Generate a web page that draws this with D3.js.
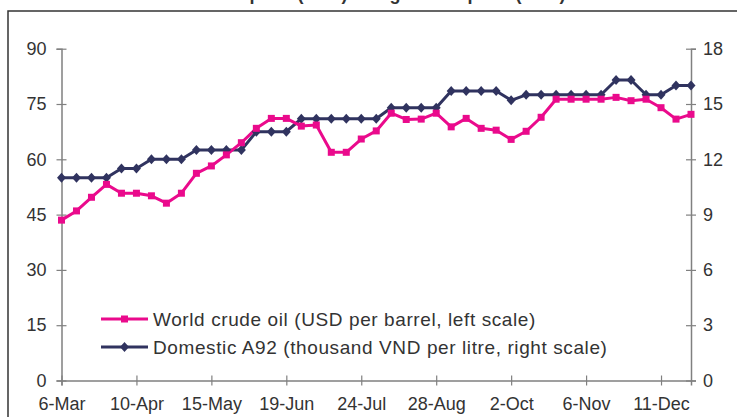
<!DOCTYPE html>
<html>
<head>
<meta charset="utf-8">
<script src="https://cdn.jsdelivr.net/npm/d3@7/dist/d3.min.js"></script>
<style>
  html, body { margin: 0; padding: 0; background: #fff; }
  svg { display: block; }
  text { font-family: "Liberation Sans", Arial, sans-serif; fill: #333; }
</style>
</head>
<body>
<svg id="chart" width="737" height="417"></svg>
<script>
// Weekly observation dates (2006)
const dates = [
  "2006-03-06","2006-03-13","2006-03-20","2006-03-27",
  "2006-04-03","2006-04-10","2006-04-17","2006-04-24",
  "2006-05-01","2006-05-08","2006-05-15","2006-05-22","2006-05-29",
  "2006-06-05","2006-06-12","2006-06-19","2006-06-26",
  "2006-07-03","2006-07-10","2006-07-17","2006-07-24","2006-07-31",
  "2006-08-07","2006-08-14","2006-08-21","2006-08-28",
  "2006-09-04","2006-09-11","2006-09-18","2006-09-25",
  "2006-10-02","2006-10-09","2006-10-16","2006-10-23","2006-10-30",
  "2006-11-06","2006-11-13","2006-11-20","2006-11-27",
  "2006-12-04","2006-12-11","2006-12-18","2006-12-25"
];

// World crude oil, USD per barrel (left scale)
const crudeOil = [
  43.5, 46.0, 49.7, 53.2, 50.8, 50.8, 50.1, 48.1, 50.8, 56.2,
  58.2, 61.2, 64.5, 68.4, 71.1, 71.1, 69.0, 69.3, 61.9, 61.9,
  65.5, 67.7, 72.5, 70.8, 70.9, 72.5, 68.8, 71.1, 68.4, 67.9,
  65.4, 67.6, 71.4, 76.3, 76.3, 76.3, 76.3, 76.8, 75.9, 76.3,
  74.0, 70.9, 72.2
];

// Domestic A92 gasoline, thousand VND per litre (right scale)
const a92 = [
  11.0, 11.0, 11.0, 11.0, 11.5, 11.5, 12.0, 12.0, 12.0, 12.5,
  12.5, 12.5, 12.5, 13.5, 13.5, 13.5, 14.2, 14.2, 14.2, 14.2,
  14.2, 14.2, 14.8, 14.8, 14.8, 14.8, 15.7, 15.7, 15.7, 15.7,
  15.2, 15.5, 15.5, 15.5, 15.5, 15.5, 15.5, 16.3, 16.3, 15.5,
  15.5, 16.0, 16.0
];

const xTickDates = ["2006-03-06","2006-04-10","2006-05-15","2006-06-19","2006-07-24",
                    "2006-08-28","2006-10-02","2006-11-06","2006-12-11"];
const xTickLabels = ["6-Mar","10-Apr","15-May","19-Jun","24-Jul","28-Aug","2-Oct","6-Nov","11-Dec"];
const leftTicks = [0, 15, 30, 45, 60, 75, 90];
const rightTicks = [0, 3, 6, 9, 12, 15, 18];

const seriesNames = [
  "World crude oil (USD per barrel, left scale)",
  "Domestic A92 (thousand VND per litre, right scale)"
];
const titleText = "Crude oil price (USD) and gasoline price (VND)";

const parse = d3.utcParse("%Y-%m-%d");
const dateVals = dates.map(parse);

const svg = d3.select("#chart");

// outer frame of the figure
svg.append("rect")
  .attr("x", 8).attr("y", 11)
  .attr("width", 760).attr("height", 440)
  .attr("fill", "none").attr("stroke", "#333").attr("stroke-width", 1.5);

// title sits above the frame, at the very top edge
svg.append("text")
  .attr("x", 366).attr("y", 0)
  .attr("text-anchor", "middle")
  .style("font-size", "18px").style("font-weight", "bold")
  .text(titleText);

const x = d3.scaleUtc()
  .domain([dateVals[0], dateVals[dateVals.length - 1]])
  .range([61.5, 691]);
const yL = d3.scaleLinear().domain([0, 90]).range([380.5, 48.7]);
const yR = d3.scaleLinear().domain([0, 18]).range([380.5, 48.7]);

const axisColor = "#808080";

function styleAxis(g) {
  g.select(".domain").attr("stroke", axisColor).attr("stroke-width", 1.5);
  g.selectAll(".tick line").attr("stroke", axisColor).attr("stroke-width", 1.2);
  g.selectAll(".tick text").style("font-size", "18px").attr("fill", "#333");
}

// left axis
const gL = svg.append("g").attr("transform", `translate(${x.range()[0]},0)`)
  .call(d3.axisLeft(yL).tickValues(leftTicks).tickSizeOuter(0).tickSize(5).tickPadding(10));
styleAxis(gL);
gL.selectAll(".tick line").attr("x1", 5).attr("x2", -5);

// right axis
const gR = svg.append("g").attr("transform", `translate(${x.range()[1]},0)`)
  .call(d3.axisRight(yR).tickValues(rightTicks).tickSizeOuter(0).tickSize(5).tickPadding(7));
styleAxis(gR);
gR.selectAll(".tick line").attr("x1", -5).attr("x2", 5);

// bottom axis
const gB = svg.append("g").attr("transform", `translate(0,${yL(0)})`)
  .call(d3.axisBottom(x).tickValues(xTickDates.map(parse))
    .tickFormat((d, i) => xTickLabels[i]).tickSizeOuter(0).tickSize(5).tickPadding(12));
styleAxis(gB);
gB.selectAll(".tick line").attr("y1", -5).attr("y2", 5);

const pink = "#EA0A8C";
const navy = "#30335F";

const oilData = dateVals.map((d, i) => ({ d, v: crudeOil[i] }));
const a92Data = dateVals.map((d, i) => ({ d, v: a92[i] }));

// domestic A92 line with diamond markers
svg.append("path").datum(a92Data)
  .attr("fill", "none").attr("stroke", navy).attr("stroke-width", 3)
  .attr("stroke-linejoin", "round")
  .attr("d", d3.line().x(p => x(p.d)).y(p => yR(p.v)));

// world crude line with square markers
svg.append("path").datum(oilData)
  .attr("fill", "none").attr("stroke", pink).attr("stroke-width", 3)
  .attr("stroke-linejoin", "round")
  .attr("d", d3.line().x(p => x(p.d)).y(p => yL(p.v)));

svg.append("g").selectAll("path").data(a92Data).join("path")
  .attr("transform", p => `translate(${x(p.d)},${yR(p.v)})`)
  .attr("d", "M0,-5L4.5,0L0,5L-4.5,0Z")
  .attr("fill", navy);

svg.append("g").selectAll("rect").data(oilData).join("rect")
  .attr("x", p => x(p.d) - 3.5).attr("y", p => yL(p.v) - 3.5)
  .attr("width", 7).attr("height", 7)
  .attr("fill", pink);

// legend
const legend = svg.append("g");
const rows = [
  { name: seriesNames[0], color: pink, shape: "square", y: 319 },
  { name: seriesNames[1], color: navy, shape: "diamond", y: 347 }
];
rows.forEach(r => {
  legend.append("line")
    .attr("x1", 101).attr("x2", 148).attr("y1", r.y).attr("y2", r.y)
    .attr("stroke", r.color).attr("stroke-width", 3);
  if (r.shape === "square") {
    legend.append("rect").attr("x", 121).attr("y", r.y - 3.5)
      .attr("width", 7).attr("height", 7).attr("fill", r.color);
  } else {
    legend.append("path").attr("transform", `translate(124.5,${r.y})`)
      .attr("d", "M0,-5L4.5,0L0,5L-4.5,0Z").attr("fill", r.color);
  }
  legend.append("text")
    .attr("x", 153).attr("y", r.y).attr("dy", "0.35em")
    .style("font-size", "19px").style("letter-spacing", "0.6px")
    .text(r.name);
});
</script>
</body>
</html>
